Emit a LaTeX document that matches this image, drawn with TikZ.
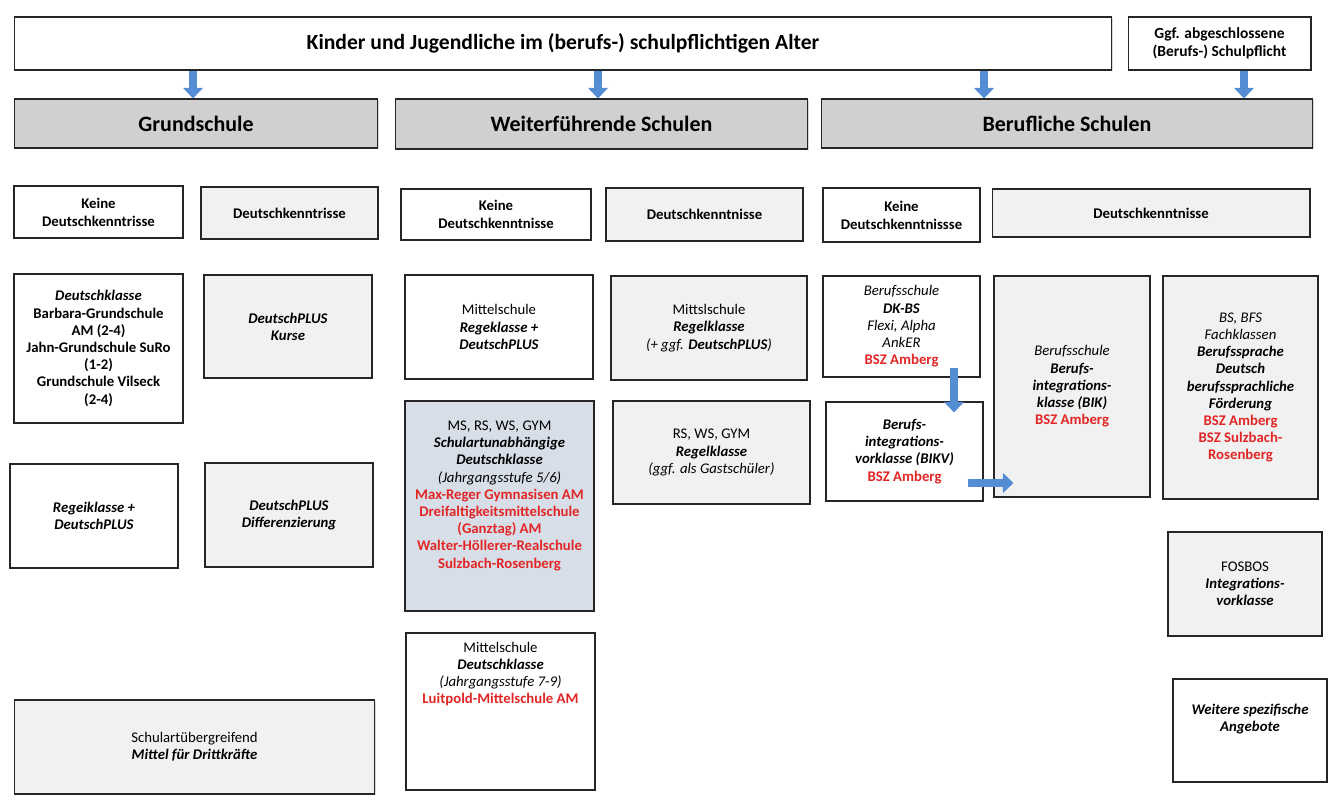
\documentclass[tikz,border=0pt]{standalone}
\usepackage{fontspec}
\setmainfont{Carlito}
\usetikzlibrary{arrows.meta,shadows}
\definecolor{pfeilblau}{RGB}{84,141,212}
\definecolor{kopfgrau}{RGB}{208,208,208}
\definecolor{hellgrau}{RGB}{241,241,241}
\definecolor{graublau}{RGB}{216,222,232}
\definecolor{schulrot}{RGB}{226,38,38}
\newcommand{\rot}[1]{\textcolor{schulrot}{\textbf{#1}}}
\newcommand{\bi}[1]{\textbf{\textit{#1}}}
\begin{document}
\begin{tikzpicture}[x=0.02cm,y=-0.02cm,font=\fontsize{8.4}{9.8}\selectfont,
    kasten/.style={draw=black!85,line width=0.6pt,fill=white,align=center,inner sep=2pt,
        drop shadow={opacity=0.3,shadow xshift=0.6pt,shadow yshift=-0.6pt}},
    grau/.style={kasten,fill=hellgrau},
    kopf/.style={kasten,fill=kopfgrau,font=\fontsize{12.5}{15}\selectfont\bfseries},
    etikett/.style={font=\fontsize{8.4}{10.2}\selectfont\bfseries},
    pfeil/.style={draw=pfeilblau,line width=5pt,-{Triangle[length=6pt,width=11pt]}}]
                \useasboundingbox (0,0) rectangle (1336,800);
                % oben
                \node[kasten,minimum width=21.96cm,minimum height=1.06cm,font=\fontsize{12.3}{14}\selectfont\bfseries] (alter) at (563,43.5) {Kinder und Jugendliche im (berufs-) schulpflichtigen Alter};
                \node[kasten,minimum width=3.66cm,minimum height=1.06cm,font=\fontsize{8.8}{10.2}\selectfont\bfseries] (pflicht) at (1219.5,43.5) {Ggf. abgeschlossene\\(Berufs-) Schulpflicht};
                \node[kopf,minimum width=7.28cm,minimum height=0.98cm] (grund) at (196,123.5) {Grundschule};
                \node[kopf,minimum width=8.26cm,minimum height=1cm] (weiter) at (601.5,124) {Weiterführende Schulen};
                \node[kopf,minimum width=9.84cm,minimum height=0.98cm] (beruf) at (1067,123.5) {Berufliche Schulen};
                \coordinate (p1) at (193,0);
                \coordinate (p2) at (598,0);
                \coordinate (p3) at (984,0);
                \coordinate (p4) at (1244,0);
                \draw[pfeil] (alter.south -| p1)--(grund.north -| p1);
                \draw[pfeil] (alter.south -| p2)--(weiter.north -| p2);
                \draw[pfeil] (alter.south -| p3)--(beruf.north -| p3);
                \draw[pfeil] (pflicht.south -| p4)--(beruf.north -| p4);
                % Grundschule
                \node[kasten,etikett,minimum width=3.38cm,minimum height=1.04cm] (gsKeine) at (98.5,212) {Keine\\Deutschkenntrisse};
                \node[grau,etikett,minimum width=3.54cm,minimum height=1.04cm] (gsDk) at (289.5,213) {Deutschkenntrisse};
                \node[kasten,minimum width=3.38cm,minimum height=2.98cm] (gsKlasse) at (98.5,348.5) {\bi{Deutschklasse}\\\textbf{Barbara-Grundschule}\\\textbf{AM (2-4)}\\\textbf{Jahn-Grundschule SuRo}\\\textbf{(1-2)}\\\textbf{Grundschule Vilseck}\\\textbf{(2-4)}};
                \node[grau,minimum width=3.36cm,minimum height=2.06cm] (gsKurse) at (288,326.5) {\bi{DeutschPLUS}\\\bi{Kurse}};
                \node[kasten,minimum width=3.36cm,minimum height=2.08cm] (gsRegel) at (94,516) {\bi{Regeiklasse +}\\\bi{DeutschPLUS}};
                \node[grau,minimum width=3.36cm,minimum height=2.08cm] (gsDiff) at (289,515) {\bi{DeutschPLUS}\\\bi{Differenzierung}};
                \node[grau,minimum width=7.22cm,minimum height=1.88cm] (drittkraft) at (194.5,747) {Schulartübergreifend\\\bi{Mittel für Drittkräfte}};
                % Weiterfuehrende Schulen
                \node[kasten,etikett,minimum width=3.8cm,minimum height=1.02cm] (wsKeine) at (496,214.5) {Keine\\Deutschkenntnisse};
                \node[grau,etikett,minimum width=3.94cm,minimum height=1.06cm] (wsDk) at (704.5,214.5) {Deutschkenntnisse};
                \node[kasten,minimum width=3.76cm,minimum height=2.08cm] (wsMs) at (499,327) {Mittelschule\\\bi{Regeklasse +}\\\bi{DeutschPLUS}};
                \node[grau,minimum width=3.92cm,minimum height=2.08cm] (wsMsDk) at (709,328) {Mittslschule\\\bi{Regelklasse}\\\textit{(+ ggf. \textbf{DeutschPLUS})}};
                \node[kasten,fill=graublau,minimum width=3.78cm,minimum height=4.2cm] (wsKlasse) at (499.5,506) {};
                \node[anchor=north,align=center,inner sep=0pt] (wsKlasseText) at ([yshift=-0.4cm]wsKlasse.north) {MS, RS, WS, GYM\\\bi{Schulartunabhängige}\\\bi{Deutschklasse}\\\textit{(Jahrgangsstufe 5/6)}\\\rot{Max-Reger Gymnasisen AM}\\\rot{Dreifaltigkeitsmittelschule}\\\rot{(Ganztag) AM}\\\rot{Walter-Höllerer-Realschule}\\\rot{Sulzbach-Rosenberg}};
                \node[grau,minimum width=3.94cm,minimum height=2.06cm] (wsGym) at (711.5,452.5) {RS, WS, GYM\\\bi{Regelklasse}\\\textit{(ggf. als Gastschüler)}};
                \node[kasten,minimum width=3.78cm,minimum height=3.14cm] (wsLuitpold) at (500.5,711.5) {};
                \node[anchor=north,align=center,inner sep=0pt] (wsLuitpoldText) at ([yshift=-0.18cm]wsLuitpold.north) {Mittelschule\\\bi{Deutschklasse}\\\textit{(Jahrgangsstufe 7-9)}\\\rot{Luitpold-Mittelschule AM}};
                % Berufliche Schulen
                \node[kasten,etikett,minimum width=3.14cm,minimum height=1.08cm] (bsKeine) at (901.5,215) {Keine\\Deutschkenntnissse};
                \node[grau,etikett,minimum width=6.36cm,minimum height=0.96cm] (bsDk) at (1151,213) {Deutschkenntnisse};
                \node[kasten,minimum width=3.14cm,minimum height=2.02cm] (bsDkbs) at (901.5,326.5) {\textit{Berufsschule}\\\bi{DK-BS}\\\textit{Flexi, Alpha}\\\textit{AnkER}\\\rot{BSZ Amberg}};
                \node[kasten,minimum width=3.14cm,minimum height=1.98cm] (bikv) at (904.5,451.5) {\bi{Berufs-}\\\bi{integrations-}\\\bi{vorklasse (BIKV)}\\\rot{BSZ Amberg}};
                \node[grau,minimum width=3.12cm,minimum height=4.42cm] (bik) at (1072,386.5) {\textit{Berufsschule}\\\bi{Berufs-}\\\bi{integrations-}\\\bi{klasse (BIK)}\\\rot{BSZ Amberg}};
                \node[grau,minimum width=3.1cm,minimum height=4.46cm] (fach) at (1240.5,387.5) {\textit{BS, BFS}\\\textit{Fachklassen}\\\bi{Berufssprache}\\\bi{Deutsch}\\\bi{berufssprachliche}\\\bi{Förderung}\\\rot{BSZ Amberg}\\\rot{BSZ Sulzbach-}\\\rot{Rosenberg}};
                \node[grau,minimum width=3.08cm,minimum height=2.08cm] (fosbos) at (1245,584) {FOSBOS\\\bi{Integrations-}\\\bi{vorklasse}};
                \node[kasten,minimum width=3.08cm,minimum height=2.06cm] (weitere) at (1250,730.5) {};
                \node[anchor=north,align=center,inner sep=0pt] (weitereText) at ([yshift=-0.5cm]weitere.north) {\bi{Weitere spezifische}\\\bi{Angebote}};
                \coordinate (p5) at (954,0);
                \coordinate (p6) at (0,483);
                \draw[pfeil] ([yshift=0.2cm]bsDkbs.south -| p5)--([yshift=-0.22cm]bikv.north -| p5);
                \draw[pfeil] ([xshift=-0.32cm]bikv.east |- p6)--([xshift=0.4cm]bik.west |- p6);
\end{tikzpicture}
\end{document}
